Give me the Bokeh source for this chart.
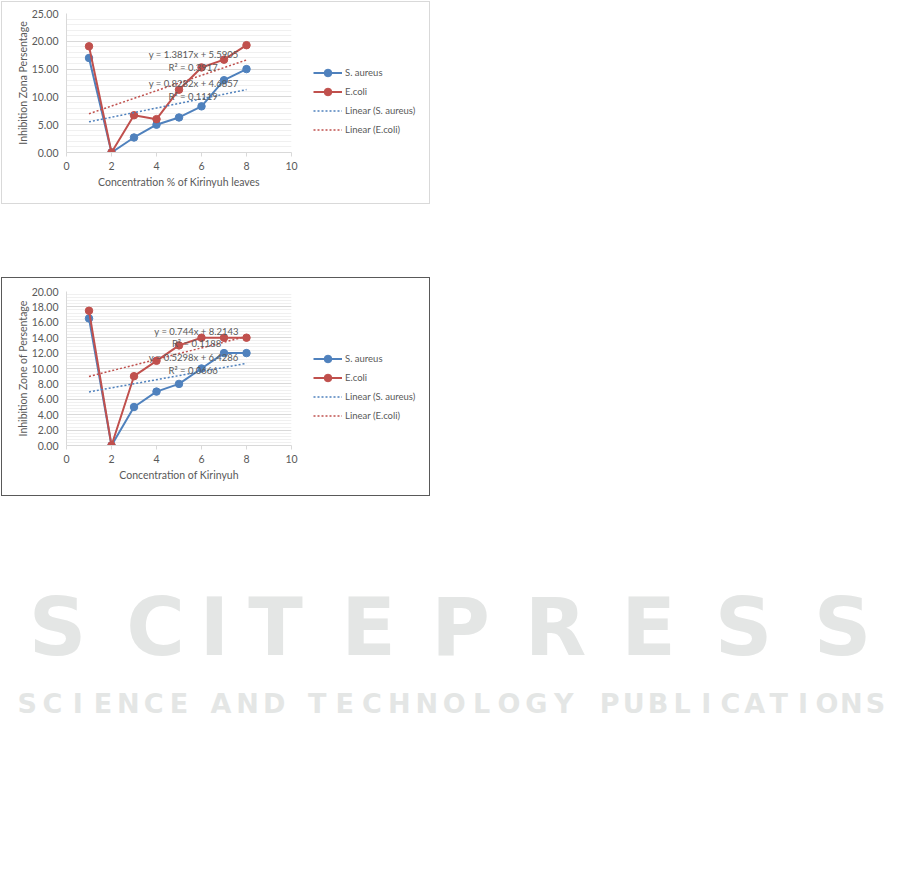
import numpy as np
from bokeh.plotting import figure
from bokeh.models import Legend, LegendItem, Label, Range1d, SingleIntervalTicker, Spacer, NumeralTickFormatter
from bokeh.layouts import column, row
from bokeh.embed import file_html
from bokeh.resources import INLINE
from bokeh.core.properties import value

# ---------------- data ----------------
conc = [1, 2, 3, 4, 5, 6, 7, 8]

c1_aureus = [17.0, 0.0, 2.7, 5.0, 6.3, 8.3, 13.0, 15.0]
c1_ecoli = [19.1, 0.0, 6.7, 6.0, 11.3, 15.3, 16.7, 19.3]
c1_fit_aureus = [0.8282, 4.6857]
c1_fit_ecoli = [1.3817, 5.5905]
c1_eq_labels = ["y = 1.3817x + 5.5905", "R\u00b2 = 0.3917", "y = 0.8282x + 4.6857", "R\u00b2 = 0.1119"]
c1_eq_x = [5.65, 5.63, 5.65, 5.63]
c1_eq_y = [17.6, 15.3, 12.4, 10.1]

c2_aureus = [16.5, 0.0, 5.0, 7.0, 8.0, 10.0, 12.0, 12.0]
c2_ecoli = [17.5, 0.0, 9.0, 11.0, 13.0, 14.0, 14.0, 14.0]
c2_fit_aureus = [0.5298, 6.4286]
c2_fit_ecoli = [0.744, 8.2143]
c2_eq_labels = ["y = 0.744x + 8.2143", "R\u00b2 = 0.1188", "y = 0.5298x + 6.4286", "R\u00b2 = 0.0666"]
c2_eq_x = [5.78, 5.78, 5.65, 5.63]
c2_eq_y = [14.8, 13.2, 11.4, 9.8]

series_names = ["S. aureus", "E.coli", "Linear (S. aureus)", "Linear (E.coli)"]

# watermark text (decoration)
wm_title_letters = list("SCITEPRESS")
wm_title_x = [57, 155, 214, 275, 368, 460, 555, 648, 743, 842]
wm_sub_words = ["SCIENCE", "AND", "TECHNOLOGY", "PUBLICATIONS"]
wm_sub_spans = [(14, 191), (207, 287), (303, 577), (597, 887)]

BLUE = "#4F81BD"
RED = "#C0504D"
TXT = "#595959"
FONT = "Lato"


def make_chart(h, top, frame_h, ymax, ymajor, aureus, ecoli, fit_a, fit_e,
               eq_labels, eq_x, eq_y, xlabel, ylabel, border, leg_y, margin):
    bottom = h - top - frame_h
    p = figure(width=297, height=h, output_backend="svg", toolbar_location=None,
               x_range=Range1d(0, 10), y_range=Range1d(0, ymax),
               min_border_left=64, min_border_right=8,
               min_border_top=top, min_border_bottom=bottom,
               background_fill_color="white", border_fill_color="white",
               outline_line_color=None)
    # axes
    p.xaxis.ticker = SingleIntervalTicker(interval=2)
    p.yaxis.ticker = SingleIntervalTicker(interval=ymajor, num_minor_ticks=5)
    p.yaxis.formatter = NumeralTickFormatter(format="0.00")
    for ax in (p.xaxis[0], p.yaxis[0]):
        ax.axis_line_color = "#d9d9d9"
        ax.major_label_text_color = TXT
        ax.major_label_text_font = FONT
        ax.major_label_text_font_size = "10.5px"
        ax.axis_label_text_color = TXT
        ax.axis_label_text_font = FONT
        ax.axis_label_text_font_size = "10.5px"
        ax.axis_label_text_font_style = "normal"
        ax.minor_tick_line_color = None
        ax.minor_tick_out = 0
        ax.minor_tick_in = 0
    p.xaxis.major_tick_line_color = "#d9d9d9"
    p.xaxis.major_tick_out = 4
    p.xaxis.major_tick_in = 0
    p.xaxis.major_label_standoff = 5
    p.xaxis.axis_label_standoff = 3
    p.yaxis.major_tick_line_color = None
    p.yaxis.major_tick_out = 0
    p.yaxis.major_tick_in = 0
    p.yaxis.major_label_standoff = 8
    p.yaxis.axis_label_standoff = 0
    p.xaxis.axis_label = xlabel
    p.yaxis.axis_label = ylabel
    p.xgrid.visible = False
    p.ygrid.grid_line_color = "#d9d9d9"
    p.ygrid.minor_grid_line_color = "#f0f0f0"

    p.line(conc, aureus, color=BLUE, line_width=2)
    p.scatter(conc, aureus, size=7.5, color=BLUE)
    p.line(conc, ecoli, color=RED, line_width=2)
    p.scatter(conc, ecoli, size=7.5, color=RED)

    tx = [conc[0], conc[-1]]
    p.line(tx, [fit_a[0] * t + fit_a[1] for t in tx], color=BLUE,
           line_width=1.5, line_dash="2 2")
    p.line(tx, [fit_e[0] * t + fit_e[1] for t in tx], color=RED,
           line_width=1.5, line_dash="2 2")

    for lab, lx, ly in zip(eq_labels, eq_x, eq_y):
        p.add_layout(Label(x=lx, y=ly, text=lab, text_align="center", text_baseline="middle",
                           text_font=FONT, text_font_size="9.5px", text_color=TXT))

    # legend panel: a separate figure to the right of the plot area; its
    # renderers repeat the series styles but lie outside its (empty) ranges
    lg = figure(width=130, height=h, output_backend="svg", toolbar_location=None,
                x_range=Range1d(100, 101), y_range=Range1d(100, 101),
                min_border_left=0, min_border_right=0,
                min_border_top=top, min_border_bottom=bottom,
                x_axis_location=None, y_axis_location=None,
                outline_line_color=None, background_fill_color="white",
                border_fill_color="white")
    lg.grid.visible = False
    la = lg.line(conc, aureus, color=BLUE, line_width=2)
    sa = lg.scatter(conc, aureus, size=7.5, color=BLUE)
    le = lg.line(conc, ecoli, color=RED, line_width=2)
    se = lg.scatter(conc, ecoli, size=7.5, color=RED)
    ta = lg.line(tx, [fit_a[0] * t + fit_a[1] for t in tx], color=BLUE,
                 line_width=1.5, line_dash="2 2")
    te = lg.line(tx, [fit_e[0] * t + fit_e[1] for t in tx], color=RED,
                 line_width=1.5, line_dash="2 2")
    legend = Legend(items=[LegendItem(label=series_names[0], renderers=[la, sa]),
                           LegendItem(label=series_names[1], renderers=[le, se]),
                           LegendItem(label=series_names[2], renderers=[ta]),
                           LegendItem(label=series_names[3], renderers=[te])],
                    location=(14, leg_y), orientation="vertical",
                    border_line_color=None, background_fill_alpha=0,
                    padding=0, margin=0, spacing=0,
                    glyph_width=29, glyph_height=19, label_height=19,
                    label_standoff=3, label_text_font=FONT,
                    label_text_font_size="9.5px", label_text_color=TXT)
    lg.add_layout(legend)
    return row(p, lg, spacing=0, margin=margin,
               styles={"border": "1px solid " + border})


p1 = make_chart(201, 11, 139, 25, 5, c1_aureus, c1_ecoli, c1_fit_aureus, c1_fit_ecoli,
                c1_eq_labels, c1_eq_x, c1_eq_y,
                "Concentration % of Kirinyuh leaves", "Inhibition Zona Persentage",
                "#d9d9d9", 13, (1, 0, 0, 1))
p2 = make_chart(217, 13, 154, 20, 2, c2_aureus, c2_ecoli, c2_fit_aureus, c2_fit_ecoli,
                c2_eq_labels, c2_eq_x, c2_eq_y,
                "Concentration of Kirinyuh", "Inhibition Zone of Persentage",
                "#595959", 20, (0, 0, 0, 1))

# watermark
wm = figure(width=885, height=360, output_backend="svg", toolbar_location=None,
            x_range=Range1d(0, 885), y_range=Range1d(360, 0), min_border=0,
            x_axis_location=None, y_axis_location=None,
            outline_line_color=None)
wm.grid.visible = False
WM = "#e4e6e5"
wm.text(x=wm_title_x, y=[130.5] * len(wm_title_x), text=wm_title_letters,
        text_align="center", text_baseline="middle", text_color=WM,
        text_font=value("DejaVu Sans"), text_font_style="bold", text_font_size="80px")
sub_letters, sub_x = [], []
for word, (a, b) in zip(wm_sub_words, wm_sub_spans):
    cell = (b - a) / len(word)
    sub_letters += list(word)
    sub_x += list(np.linspace(a + cell / 2, b - cell / 2, len(word)))
wm.text(x=sub_x, y=[206.5] * len(sub_x), text=sub_letters,
        text_align="center", text_baseline="middle", text_color=WM,
        text_font=value("DejaVu Sans"), text_font_style="bold", text_font_size="27px")

layout = column(p1, Spacer(height=73), p2, row(wm), spacing=0)

open("out.html", "w").write(file_html(layout, INLINE))
